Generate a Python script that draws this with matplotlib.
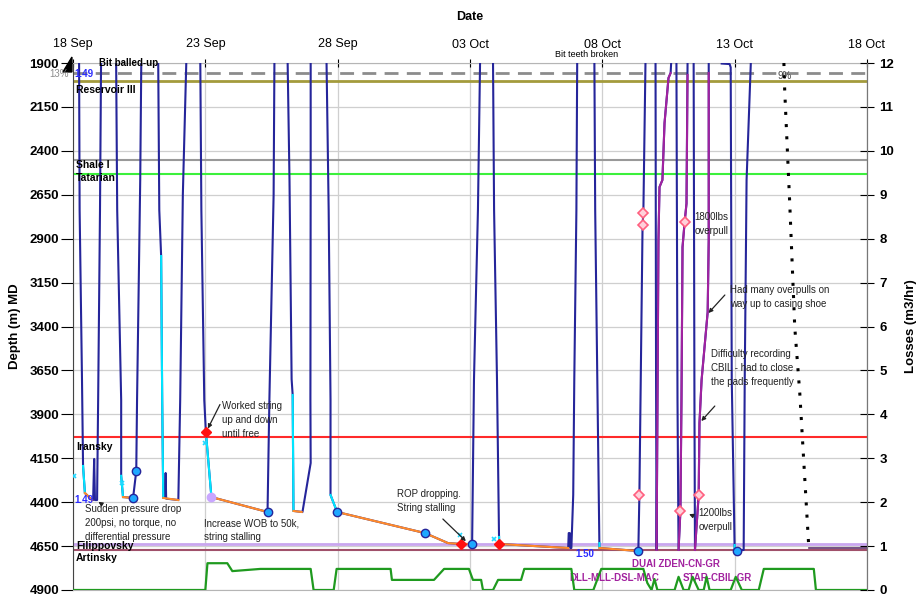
import numpy as np
import matplotlib.pyplot as plt
from matplotlib.patches import Polygon

plt.rcParams['font.family'] = ['Liberation Sans', 'DejaVu Sans']

NAN = np.nan

# x axis: days since 18 Sep
DATE_TICKS = [0, 5, 10, 15, 20, 25, 30]
DATE_LABELS = ['18 Sep', '23 Sep', '28 Sep', '03 Oct', '08 Oct', '13 Oct', '18 Oct']
DEPTH_TICKS = list(range(1900, 4901, 250))
LOSS_TICKS = list(range(0, 13))

# bit depth trace (m MD), one run per trip, NaN between trips
bit_day = [0.23, 0.25, 0.34, 0.38, 0.45, 0.72, 0.76, 0.80, 0.83, 0.91, 0.95, 1.02, 1.06, NAN,
           1.63, 1.67, 1.82, 1.82, 1.89, 2.27, 2.39, 2.42, 2.54, 2.58, NAN,
           3.22, 3.26, 3.33, 3.37, 3.41, 3.48, 3.50, 3.52, 3.98, 4.05, 4.15, 4.28, NAN,
           4.81, 4.85, 4.96, 5.02, 5.23, 7.35, 7.42, 7.58, 7.61, NAN,
           8.11, 8.18, 8.26, 8.30, 8.33, 8.64, 8.67, 8.98, 8.97, 8.98, 8.98, NAN,
           9.58, 9.66, 9.73, 9.73, 9.98, 13.30, 14.17, 14.66, 15.08, 15.15, 15.30, 15.38, NAN,
           15.87, 15.91, 16.02, 16.10, 16.10, 18.71, 18.73, 18.77, 18.79, 18.83, 18.90, 18.94, 19.02, 19.05, NAN,
           19.70, 19.73, 19.81, 19.89, 19.89, 21.36, 21.40, 21.52, 21.55, 21.63, NAN,
           22.01, 22.03, 22.05, 22.12, 22.16, 22.27, 22.35, 22.50, 22.58, 22.60, NAN,
           22.80, 22.84, 22.88, 22.95, 22.99, 23.03, 23.11, 23.18, 23.22, 23.22, NAN,
           23.45, 23.48, 23.50, 23.64, 23.67, 23.75, 23.98, 24.02, 24.02, 24.02, NAN,
           24.51, 24.81, 24.85, 24.89, 25.00, 25.00, 25.08, 25.34, 25.38, 25.45, 25.61]
bit_depth = [1900, 2737, 3705, 4194, 4348, 4388, 4388, 4154, 4388, 4388, 3819, 2737, 1900, NAN,
             1900, 2737, 3819, 4250, 4371, 4376, 4223, 3819, 2566, 1900, NAN,
             1900, 2737, 2999, 3819, 4376, 4376, 4234, 4380, 4388, 3819, 2650, 1900, NAN,
             1900, 2737, 3819, 4001, 4371, 4456, 3819, 2650, 1900, NAN,
             1900, 2566, 3700, 3790, 4450, 4456, 4456, 4177, 3819, 2566, 1900, NAN,
             1900, 2737, 3819, 4359, 4456, 4576, 4633, 4638, 4638, 3705, 2737, 1900, NAN,
             1900, 2737, 3705, 4598, 4638, 4661, 4576, 4576, 4661, 4661, 4359, 3705, 2737, 1900, NAN,
             1900, 2737, 3705, 4633, 4661, 4678, 4359, 2822, 2754, 1900, NAN,
             1900, 3705, 4672, 2908, 2606, 2566, 2242, 1985, 1957, 1900, NAN,
             1900, 3819, 4672, 4450, 3819, 2948, 2805, 2700, 1968, 1900, NAN,
             1900, 3819, 4672, 4359, 3950, 3705, 3318, 2908, 1957, 1900, NAN,
             1903, 1906, 1925, 3705, 4644, 4678, 4678, 4672, 3705, 2566, 1900]

# reaming / washing down
ream_day = [0.38, 0.45, NAN, 1.82, 1.89, NAN, 3.33, 3.37, 3.41, NAN, 5.02, 5.23, NAN,
            8.30, 8.33, NAN, 9.73, 9.98, NAN, 16.10, 16.10, NAN, 19.89, 19.89, NAN, 25.00, 25.00]
ream_depth = [4194, 4348, NAN, 4250, 4371, NAN, 2999, 3819, 4376, NAN, 4001, 4371, NAN,
              3790, 4450, NAN, 4359, 4456, NAN, 4598, 4638, NAN, 4633, 4661, NAN, 4644, 4672]

# drilling
drill_day = [0.45, 0.72, NAN, 1.89, 2.27, NAN, 3.41, 3.98, NAN, 5.23, 7.35, NAN, 8.33, 8.64, NAN,
             9.98, 13.30, 14.17, 14.66, 15.08, NAN, 16.10, 18.71, NAN, 19.89, 21.36]
drill_depth = [4348, 4388, NAN, 4371, 4376, NAN, 4376, 4388, NAN, 4371, 4456, NAN, 4450, 4456, NAN,
               4456, 4576, 4633, 4638, 4638, NAN, 4638, 4661, NAN, 4661, 4678]

# wireline logging runs, pulling out
log_day = [22.05, 22.12, 22.16, 22.27, 22.35, 22.50, 22.58, NAN,
           22.88, 22.95, 22.99, 23.03, 23.11, 23.18, 23.22, NAN,
           23.50, 23.64, 23.67, 23.75, 23.98, 24.02, 24.02]
log_depth = [4672, 2908, 2606, 2566, 2242, 1985, 1957, NAN,
             4672, 4450, 3819, 2948, 2805, 2700, 1968, NAN,
             4672, 4359, 3950, 3705, 3318, 2908, 1957]

# planned curve
plan_day = [26.86, 26.89, 27.08, 27.27, 27.46, 27.80]
plan_depth = [1900, 2054, 2697, 3403, 3779, 4655]

# events
bha_day = [2.27, 2.39, 7.35, 9.98, 13.30, 15.08, 21.36, 25.08]
bha_depth = [4376, 4223, 4456, 4456, 4576, 4638, 4678, 4678]
stuck_day = [5.02, 14.66, 16.10]
stuck_depth = [4001, 4638, 4638]
overpull_day = [21.40, 21.52, 21.55, 22.95, 23.11, 23.64]
overpull_depth = [4359, 2822, 2754, 4450, 2805, 4359]
wash_day = [0.04, 1.86, 5.00, 14.62, 15.91]
wash_depth = [4251, 4291, 4063, 4587, 4610]

# losses (m3/hr)
loss_day = [0, 5.00, 5.08, 5.83, 6.02, 7.08, 8.98, 9.09, 9.85, 9.96, 12.00, 12.05, 13.64, 14.02,
            14.96, 15.11, 15.42, 15.49, 15.87, 16.06, 16.93, 17.05, 18.83, 18.94, 19.66, 19.96,
            21.55, 21.70, 21.86, 21.97, 22.08, 22.73, 22.88, 23.07, 23.26, 23.41, 23.64, 23.83,
            23.94, 24.05, 24.85, 25.04, 25.27, 25.91, 26.10, 27.99, 28.07, 30.0]
loss_rate = [0, 0, 0.61, 0.61, 0.43, 0.48, 0.48, 0, 0, 0.48, 0.48, 0.23, 0.23, 0.48,
             0.48, 0.23, 0.23, 0, 0, 0.23, 0.23, 0.48, 0.48, 0, 0, 0.48,
             0.48, 0.16, 0, 0.25, 0, 0, 0.30, 0, 0, 0.30, 0, 0,
             0.30, 0, 0, 0.30, 0, 0, 0.48, 0.48, 0, 0]

FORMATIONS = ['Reservoir III', 'Shale I', 'Tatarian', 'Iransky', 'Filippovsky', 'Artinsky']
FORMATION_TOPS = [2003, 2452, 2532, 4029, 4638, 4672]
FORMATION_COLORS = ['#a39b3c', '#999999', '#3cf03c', '#ff2a2a', '#c9a6ef', '#a0506a']
FORMATION_LABEL_Y = [2054, 2481, 2555, 4086, 4650, 4718]
CASING_SHOE = 1957

NAVY = '#25259a'

fig = plt.figure(figsize=(9.18, 6.01), dpi=100)
ax = fig.add_axes([73 / 918, 11 / 601, 794 / 918, 527 / 601])
ax.set_xlim(0, 30)
ax.set_ylim(4900, 1900)

ax.set_axisbelow(True)
ax.grid(True, color='#cfcfcf', lw=0.9)

# formation tops
ax.axhline(CASING_SHOE, color='#8c8c8c', lw=2, ls=(0, (5, 3)), zorder=1)
for name, top, col, ly in zip(FORMATIONS, FORMATION_TOPS, FORMATION_COLORS, FORMATION_LABEL_Y):
    ax.axhline(top, color=col, lw=2 if name in ('Reservoir III', 'Filippovsky') else 1.5, zorder=1)
    ax.text(0.12, ly, name, fontsize=7.5, fontweight='bold', va='center', ha='left', zorder=6)

ax.plot(bit_day, bit_depth, color=NAVY, lw=1.5, zorder=3)
ax.plot(ream_day, ream_depth, color='#00e6ff', lw=1.5, zorder=4)
ax.plot(drill_day, drill_depth, color='#ff8a2a', lw=1.5, zorder=4)
ax.plot(log_day, log_depth, color='#a2229f', lw=1.5, zorder=4)
ax.plot(plan_day, plan_depth, color='black', lw=2.2, ls=(0, (1, 3)), zorder=4)
ax.plot([plan_day[-1], 30], [4661, 4661], color='#5e3470', lw=1.2, zorder=4)

ax.plot(bha_day, bha_depth, 'o', ms=6, mfc='#1ea8ff', mec=NAVY, mew=1, zorder=5)
ax.plot(stuck_day, stuck_depth, 'D', ms=5, mfc='#ff1010', mec='#ff1010', zorder=5)
ax.plot([5.23], [4371], 'o', ms=6, mfc='#c9a6ff', mec='#c9a6ff', zorder=5)
ax.plot(overpull_day, overpull_depth, 'D', ms=5, mfc='#ffd0da', mec='#ff5f7f', mew=1.2, zorder=5)
ax.plot(wash_day, wash_depth, 'x', ms=3, color='#22d8ff', mew=1.2, zorder=5)

# mud weights / notes
ax.text(0.05, 1962, '1.49', color='#2b2bff', fontsize=7, fontweight='bold', va='center', zorder=6)
ax.text(0.05, 4390, '1.49', color='#2b2bff', fontsize=7, fontweight='bold', va='center', zorder=6)
ax.text(19.0, 4695, '1.50', color='#2b2bff', fontsize=7, fontweight='bold', va='center', zorder=6)
ax.text(-0.15, 1962, '13%', color='#8c8c8c', fontsize=7, ha='right', va='center', clip_on=False)
ax.text(26.6, 1975, '9%', color='#444444', fontsize=7, va='center')
ax.text(1.0, 1900, 'Bit balled-up', fontsize=7, fontweight='bold', va='center', zorder=6)
ax.text(18.2, 1852, 'Bit teeth broken', fontsize=6.5, va='center', clip_on=False)
ax.add_patch(Polygon([(-0.38, 1951), (-0.04, 1866), (-0.04, 1951)], closed=True,
                     color='black', clip_on=False))

purple = '#a2229f'
ax.text(20.45, 4832, 'DLL-MLL-DSL-MAC', color=purple, fontsize=7, fontweight='bold',
        ha='center', va='center', zorder=6)
ax.text(22.77, 4752, 'DUAI ZDEN-CN-GR', color=purple, fontsize=7, fontweight='bold',
        ha='center', va='center', zorder=6)
ax.text(24.36, 4832, 'STAR-CBIL-GR', color=purple, fontsize=7, fontweight='bold',
        ha='center', va='center', zorder=6)

arrow = dict(arrowstyle='-|>', color='#222222', lw=0.9, mutation_scale=6)
notes = [
    ('Worked string\nup and down\nuntil free', 5.64, 3932, (5.05, 3995), (5.60, 3830)),
    ('Sudden pressure drop\n200psi, no torque, no\ndifferential pressure', 0.45, 4519,
     (0.87, 4390), (1.14, 4416)),
    ('Increase WOB to 50k,\nstring stalling', 4.96, 4558, None, None),
    ('ROP dropping.\nString stalling', 12.23, 4394, (14.92, 4633), (13.9, 4485)),
    ('1800lbs\noverpull', 23.48, 2817, None, None),
    ('Had many overpulls on\nway up to casing shoe', 24.81, 3232, (23.94, 3335), (24.70, 3209)),
    ('Difficulty recording\nCBIL - had to close\nthe pads frequently', 24.09, 3636,
     (23.67, 3950), (24.32, 3841)),
    ('1200lbs\noverpull', 23.64, 4502, (23.18, 4462), (23.45, 4479)),
]
for txt, tx, ty, xy, xyt in notes:
    ax.text(tx, ty, txt, fontsize=7, color='#222222', va='center', ha='left',
            linespacing=1.45, zorder=6)
    if xy is not None:
        ax.annotate('', xy=xy, xytext=xyt, arrowprops=arrow, zorder=6)

# axes styling
ax.set_yticks(DEPTH_TICKS)
ax.set_xticks(DATE_TICKS)
ax.set_xticklabels(DATE_LABELS)
ax.xaxis.tick_top()
ax.xaxis.set_label_position('top')
ax.set_xlabel('Date', fontsize=9, fontweight='bold', labelpad=13)
ax.set_ylabel('Depth (m) MD', fontsize=9.5, fontweight='bold', labelpad=6)
ax.tick_params(axis='x', direction='inout', length=6, pad=6, labelsize=9)
ax.tick_params(axis='y', direction='out', length=9, pad=1, labelsize=9.5)
for lab in ax.get_yticklabels():
    lab.set_fontweight('bold')
for side in ('top', 'bottom'):
    ax.spines[side].set_color('#b5b5b5')
ax.spines['left'].set_color('#444444')
ax.spines['right'].set_color('#777777')

ax2 = ax.twinx()
ax2.set_ylim(0, 12)
ax2.set_yticks(LOSS_TICKS)
ax2.plot(loss_day, loss_rate, color='#1f9a1f', lw=1.6, zorder=3)
ax2.set_ylabel('Losses (m3/hr)', fontsize=9.5, fontweight='bold', labelpad=8)
ax2.tick_params(axis='y', direction='inout', length=10, pad=4, labelsize=9.5)
for lab in ax2.get_yticklabels():
    lab.set_fontweight('bold')
for side in ('top', 'bottom'):
    ax2.spines[side].set_visible(False)
ax2.spines['left'].set_visible(False)
ax2.spines['right'].set_color('#777777')

plt.savefig('out.png', dpi=100)
